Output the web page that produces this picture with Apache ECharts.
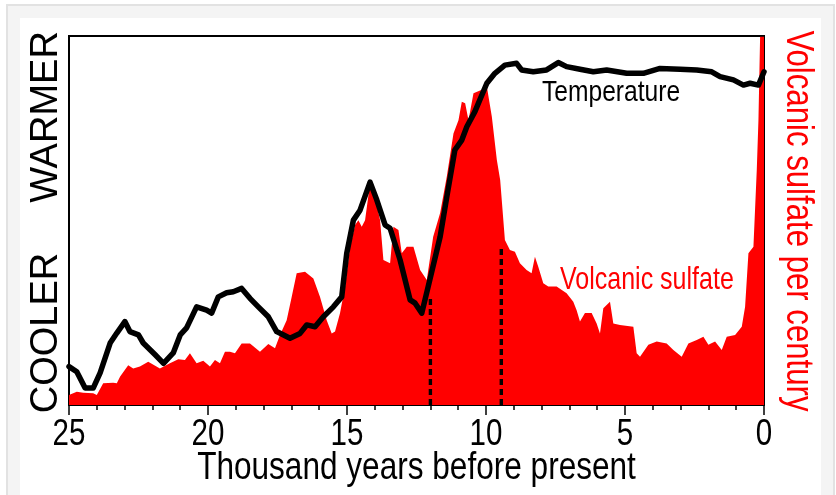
<!DOCTYPE html>
<html>
<head>
<meta charset="utf-8">
<script src="https://cdn.jsdelivr.net/npm/echarts@6/dist/echarts.min.js"></script>
<style>
html,body{margin:0;padding:0;background:#fff;}
#chart{width:836px;height:495px;}
</style>
</head>
<body>
<div id="chart"></div>
<script>
// Thousand years before present, and relative temperature (0-100, cooler -> warmer)
const tempYears = [25,24.72,24.42,24.13,23.88,23.52,23.28,22.99,22.81,22.5,22.33,21.9,21.6,21.25,21.0,20.77,20.41,20.05,19.87,19.63,19.33,19.09,18.79,18.49,18.19,17.83,17.53,17.05,16.69,16.45,16.15,15.85,15.49,15.19,15.01,14.77,14.53,14.17,13.93,13.63,13.45,13.09,12.73,12.55,12.31,12.08,11.65,11.41,11.12,10.87,10.69,10.40,9.97,9.68,9.32,8.90,8.72,8.30,7.82,7.40,7.10,6.62,6.14,5.66,4.94,4.34,3.74,3.02,2.42,1.88,1.58,1.10,0.74,0.50,0.20,0.0];
const tempValues = [10.4,9.0,4.6,4.6,8.7,16.8,19.5,22.6,19.9,19.0,16.8,13.6,11.3,14.1,19.0,20.9,26.6,25.7,24.9,29.3,30.4,30.7,31.6,28.9,26.6,23.9,19.9,18.1,19.4,21.7,21.2,23.9,26.6,29.3,41.1,50.1,52.8,60.4,55.6,48.8,47.9,39.3,28.5,27.6,24.9,32.1,45.6,56.4,69.1,71.8,75.4,79.5,87.2,89.9,92.1,92.6,90.8,90.3,90.8,92.8,91.7,91.0,90.3,90.8,89.9,89.9,91.2,91.0,90.8,90.3,89.0,88.1,86.7,87.2,86.7,90.3];

// Volcanic sulfate per century (relative units, 0-100)
const sulfYears = [25,24.72,24.49,24.13,24.0,23.77,23.41,23.28,23.16,22.87,22.69,22.45,22.15,21.73,21.37,21.07,20.83,20.65,20.41,20.17,19.93,19.75,19.57,19.39,19.21,19.03,18.79,18.49,18.13,17.83,17.59,17.41,17.17,16.99,16.81,16.51,16.21,15.97,15.73,15.55,15.43,15.25,15.07,14.89,14.71,14.59,14.47,14.35,14.17,13.99,13.81,13.69,13.45,13.33,13.15,13.03,12.85,12.61,12.37,12.13,11.9,11.65,11.41,11.17,10.99,10.87,10.75,10.63,10.45,10.15,9.97,9.79,9.61,9.49,9.32,9.14,8.96,8.78,8.54,8.36,8.24,8.12,7.94,7.76,7.46,7.10,6.86,6.74,6.62,6.44,6.20,6.02,5.90,5.78,5.54,5.42,5.18,4.70,4.58,4.46,4.16,3.86,3.50,3.26,2.96,2.72,2.42,2.18,2.00,1.76,1.52,1.34,1.04,0.80,0.68,0.56,0.38,0.26,0.20,0.14,0.0];
const sulfValues = [2.7,3.6,3.3,3.2,2.7,5.9,6.0,5.9,7.7,10.8,9.9,10.4,11.7,9.9,11.3,12.4,12.2,14.0,11.3,12.0,10.4,12.2,11.3,14.4,14.4,14.0,16.7,16.7,14.4,16.5,15.4,19.0,23.0,29.3,35.7,36.1,34.3,29.3,23.0,19.4,19.9,24.9,32.1,42.9,48.8,50.1,48.3,50.1,60.1,56.4,50.1,39.3,38.4,48.3,47.4,41.1,42.9,42.9,36.6,33.9,45.6,52.0,61.9,73.6,77.2,82.2,81.8,77.2,84.5,85.4,86.3,78.1,66.4,61.0,44.7,42.0,41.5,38.4,36.6,35.7,40.2,37.5,33.0,32.1,32.1,30.3,28.0,25.7,22.6,24.9,24.9,22.1,19.4,26.2,28.0,22.1,21.7,21.2,14.0,13.1,16.3,17.2,16.7,14.9,13.1,16.7,17.6,18.5,16.3,17.2,14.9,18.5,19.0,21.2,26.6,41.1,42.9,63.7,77.2,99.8,99.8];

// Marked dates (dashed verticals) and the temperature level where they end
const markYears = [12.0, 9.45];
const markTops = [29.8, 43.2];

const xTicks = [25,20,15,10,5,0];

const font = "'Liberation Sans',Arial,sans-serif";
const NARROW = 0.82; // horizontal squeeze to imitate a narrow face

const chart = echarts.init(document.getElementById('chart'), null, {renderer:'canvas'});

const tempData = tempYears.map((t,i)=>[t,tempValues[i]]);
const sulfData = sulfYears.map((t,i)=>[t,sulfValues[i]]);

const markSeries = markYears.map((t,i)=>({
  type:'line', yAxisIndex:0, data:[[t,0],[t,markTops[i]]],
  showSymbol:false, silent:true, z:3,
  lineStyle:{color:'#000', width:3.4, type:[6,4]}
}));

const baseGraphic = [
  {type:'rect', z:-10, shape:{x:7,y:5,width:827,height:495}, style:{fill:'#f4f4f4', stroke:'#e2e2e2', lineWidth:2}},
  {type:'rect', z:-9, shape:{x:20,y:18,width:801,height:480}, style:{fill:'#ffffff'}},
  {type:'text', x:47, y:117, rotation:Math.PI/2, style:{text:'WARMER', font:'38px '+font, fill:'#000', align:'center', verticalAlign:'middle'}},
  {type:'text', x:47, y:333, rotation:Math.PI/2, style:{text:'COOLER', font:'38px '+font, fill:'#000', align:'center', verticalAlign:'middle'}},
  {type:'text', x:797, y:221, rotation:-Math.PI/2, scaleX:NARROW, style:{text:'Volcanic sulfate per century', font:'38px '+font, fill:'#ff0000', align:'center', verticalAlign:'middle'}},
  {type:'text', x:542, y:93, z:10, scaleX:NARROW, style:{text:'Temperature', font:'30px '+font, fill:'#000', align:'left', verticalAlign:'middle'}},
  {type:'text', x:560, y:281, z:10, scaleX:NARROW, style:{text:'Volcanic sulfate', font:'30.5px '+font, fill:'#ff0000', align:'left', verticalAlign:'middle'}}
];

chart.setOption({
  animation:false,
  backgroundColor:'#ffffff',
  graphic:baseGraphic,
  grid:{left:69, right:72, top:36, bottom:90, show:true, borderColor:'#000', borderWidth:2, backgroundColor:'transparent'},
  xAxis:{
    type:'value', inverse:true, min:0, max:25, interval:5,
    axisLine:{show:true, lineStyle:{color:'#000', width:2}},
    axisTick:{show:true, length:10, lineStyle:{color:'#000', width:1.5}},
    minorTick:{show:true, splitNumber:5, length:5, lineStyle:{color:'#000', width:1.5}},
    splitLine:{show:false},
    axisLabel:{show:false}
  },
  yAxis:[
    {type:'value', min:0, max:100, position:'left',
      axisLine:{show:true, lineStyle:{color:'#000', width:2}}, axisTick:{show:false}, axisLabel:{show:false}, splitLine:{show:false}},
    {type:'value', min:0, max:100, position:'right',
      axisLine:{show:true, lineStyle:{color:'#000', width:2}}, axisTick:{show:false}, axisLabel:{show:false}, splitLine:{show:false}}
  ],
  series:[
    {type:'line', name:'Volcanic sulfate', yAxisIndex:1, data:sulfData, showSymbol:false, silent:true, z:1,
      lineStyle:{width:0, color:'#ff0000'}, areaStyle:{color:'#ff0000', opacity:1}},
    ...markSeries,
    {type:'line', name:'Temperature', yAxisIndex:0, data:tempData, showSymbol:false, silent:true, z:4,
      lineStyle:{color:'#000', width:5.5, join:'round', cap:'round'}}
  ]
});

// Tick labels and axis title placed through the axis scale (narrow lettering)
const axisY = chart.convertToPixel({yAxisIndex:0}, 0);
const tickGraphic = xTicks.map(v=>({
  type:'text', x:chart.convertToPixel({xAxisIndex:0}, v), y:axisY + 30, scaleX:NARROW,
  style:{text:String(v), font:'36px '+font, fill:'#000', align:'center', verticalAlign:'middle'}
}));
const x0 = chart.convertToPixel({xAxisIndex:0}, 25), x1 = chart.convertToPixel({xAxisIndex:0}, 0);
tickGraphic.push({type:'text', x:(x0+x1)/2, y:axisY + 63, scaleX:NARROW,
  style:{text:'Thousand years before present', font:'38.5px '+font, fill:'#000', align:'center', verticalAlign:'middle'}});

chart.setOption({graphic:baseGraphic.concat(tickGraphic)});
</script>
</body>
</html>
